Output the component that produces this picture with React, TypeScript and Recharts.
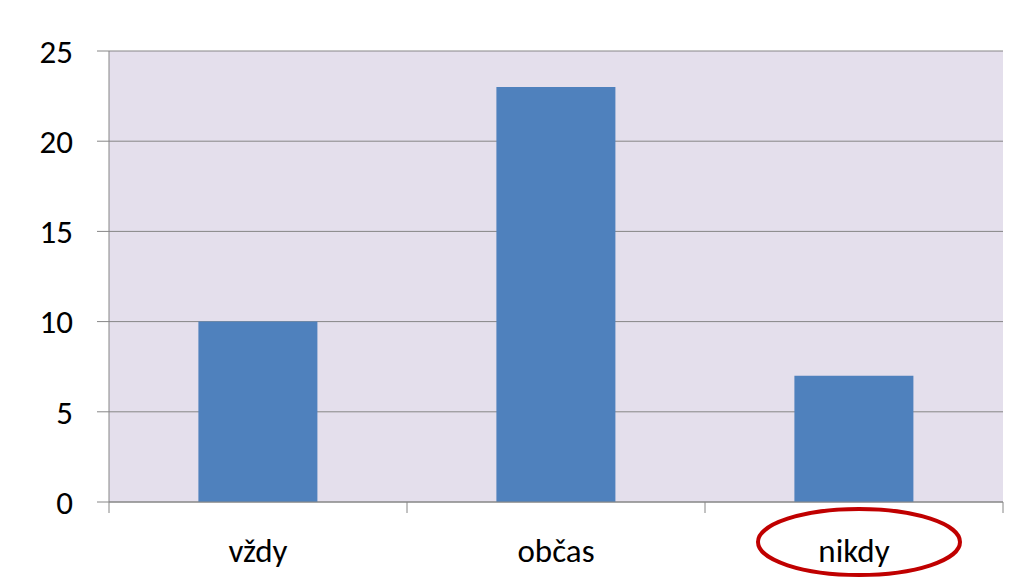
import { BarChart, Bar, XAxis, YAxis, CartesianGrid } from 'recharts'

const categories = ['vždy', 'občas', 'nikdy']
const counts = [10, 23, 7]
const yTicks = [0, 5, 10, 15, 20, 25]
const highlighted = 'nikdy'

const data = categories.map((name, i) => ({ name, count: counts[i] }))

const FONT = 'Carlito, Lato, "Liberation Sans", sans-serif'

function CategoryTick(props: any) {
    const { x, y, payload, index, width, visibleTicksCount } = props
    const band = width / (visibleTicksCount || categories.length)
    const left = x - band / 2
    const right = x + band / 2
    const isLast = index === categories.length - 1
    return (
        <g>
            <line x1={left} y1={y} x2={left} y2={y + 11} stroke="#868686" strokeWidth={1} />
            {isLast && <line x1={right} y1={y} x2={right} y2={y + 11} stroke="#868686" strokeWidth={1} />}
            <text x={x} y={y + 60} textAnchor="middle" fontSize={33} fontFamily={FONT} fill="#000">
                {payload.value}
            </text>
            {payload.value === highlighted && (
                <ellipse cx={x + 5} cy={y + 40} rx={101} ry={33} fill="none" stroke="#C00000" strokeWidth={4} />
            )}
        </g>
    )
}

export default function App() {
    return (
        <div style={{ position: 'absolute', left: 0, top: 0, width: 1019, height: 583, background: '#fff' }}>
            <BarChart
                width={1019}
                height={583}
                data={data}
                margin={{ top: 51, right: 16, bottom: 21, left: 0 }}
                barCategoryGap="30%"
            >
                <CartesianGrid vertical={false} stroke="#868686" fill="#E4DFEC" fillOpacity={1} />
                <XAxis
                    dataKey="name"
                    axisLine={{ stroke: '#868686' }}
                    tickLine={false}
                    tickSize={0}
                    tickMargin={0}
                    tick={<CategoryTick />}
                    interval={0}
                    height={60}
                />
                <YAxis
                    domain={[0, 25]}
                    ticks={yTicks}
                    width={109}
                    axisLine={{ stroke: '#868686' }}
                    tickLine={{ stroke: '#868686' }}
                    tickSize={12}
                    tickMargin={24}
                    tick={{ fontSize: 33, fontFamily: FONT, fill: '#000' }}
                />
                <Bar dataKey="count" fill="#4F81BD" isAnimationActive={false} />
            </BarChart>
        </div>
    )
}
